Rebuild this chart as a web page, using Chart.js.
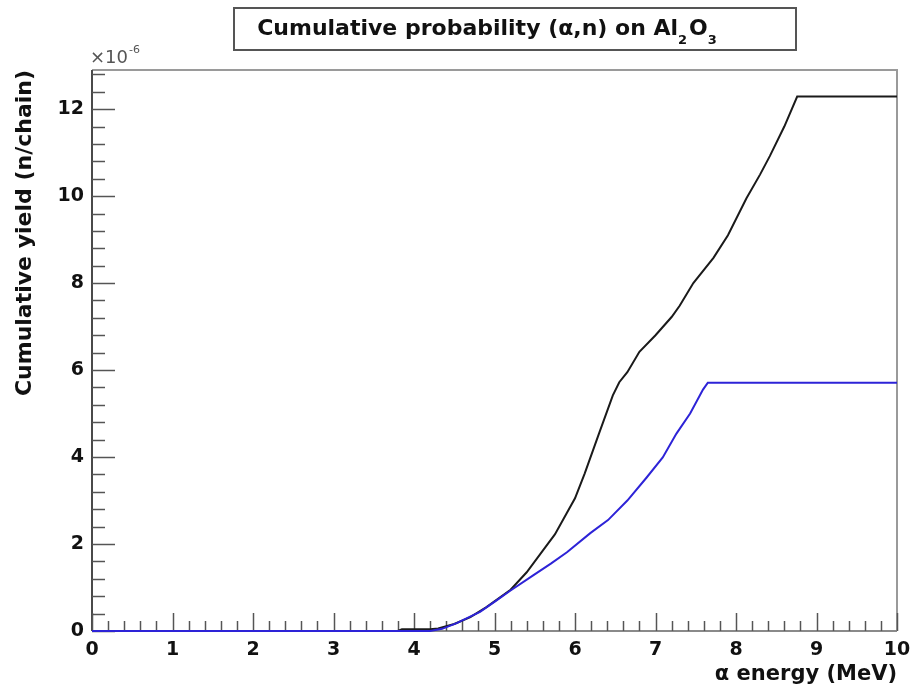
<!DOCTYPE html>
<html>
<head>
<meta charset="utf-8">
<script src="https://cdn.jsdelivr.net/npm/chart.js@4/dist/chart.umd.min.js"></script>
<style>
  html, body { margin: 0; padding: 0; background: #fff; }
  #wrap { width: 913px; height: 688px; }
</style>
</head>
<body>
<div id="wrap"><canvas id="c" width="913" height="688"></canvas></div>
<script>
// Cumulative (alpha,n) yield on Al2O3, in units of 1e-6 neutrons per chain
const curveAEnergy = [0, 3.8, 3.85, 4.2, 4.3, 4.5, 4.7, 4.9, 5.0, 5.2, 5.4, 5.6, 5.75, 5.9, 6.0, 6.12, 6.3, 6.47, 6.55, 6.65, 6.8, 7.0, 7.2, 7.3, 7.47, 7.72, 7.9, 8.13, 8.3, 8.42, 8.6, 8.76, 10];
const curveAYield  = [0, 0, 0.04, 0.04, 0.06, 0.16, 0.32, 0.55, 0.68, 0.95, 1.35, 1.85, 2.22, 2.72, 3.05, 3.62, 4.55, 5.42, 5.72, 5.95, 6.42, 6.8, 7.22, 7.48, 8.0, 8.58, 9.1, 9.95, 10.5, 10.92, 11.6, 12.29, 12.29];

const curveBEnergy = [0, 4.2, 4.35, 4.53, 4.82, 5.03, 5.19, 5.48, 5.7, 5.9, 6.19, 6.41, 6.65, 6.89, 7.09, 7.26, 7.43, 7.59, 7.65, 10];
const curveBYield  = [0, 0, 0.05, 0.18, 0.44, 0.71, 0.92, 1.28, 1.55, 1.81, 2.25, 2.55, 3.0, 3.53, 3.99, 4.54, 5.0, 5.55, 5.71, 5.71];

const xTickLabels = [0, 1, 2, 3, 4, 5, 6, 7, 8, 9, 10];
const yTickLabels = [0, 2, 4, 6, 8, 10, 12];

const FONT = '"DejaVu Sans", Verdana, sans-serif';

function toPoints(xs, ys) { return xs.map((x, i) => ({ x: x, y: ys[i] })); }

// Frame, inward tick marks, exponent label and boxed title
const decorations = {
  id: 'decorations',
  beforeDatasetsDraw(chart) {
    const { ctx, chartArea: a, scales: { x, y } } = chart;
    ctx.save();
    ctx.lineWidth = 2;
    ctx.strokeStyle = '#9a9a9a';
    ctx.beginPath();
    ctx.moveTo(a.left, a.top); ctx.lineTo(a.right, a.top); ctx.lineTo(a.right, a.bottom);
    ctx.stroke();
    ctx.strokeStyle = '#8a8a8a';
    ctx.beginPath(); ctx.moveTo(a.left, a.bottom); ctx.lineTo(a.right, a.bottom); ctx.stroke();
    ctx.strokeStyle = '#4a4a4a';
    ctx.beginPath(); ctx.moveTo(a.left, a.top); ctx.lineTo(a.left, a.bottom); ctx.stroke();

    ctx.lineWidth = 1.5;
    ctx.strokeStyle = '#555';
    for (let i = 0; i <= 50; i++) {
      const v = i * 0.2;
      const px = Math.round(x.getPixelForValue(v)) + 0.5;
      const len = (i % 5 === 0) ? 18 : 10;
      ctx.beginPath(); ctx.moveTo(px, a.bottom); ctx.lineTo(px, a.bottom - len); ctx.stroke();
    }
    for (let i = 0; i <= 32; i++) {
      const v = i * 0.4;
      if (v > y.max) break;
      const py = Math.round(y.getPixelForValue(v)) + 0.5;
      const len = (i % 5 === 0) ? 23 : 13;
      ctx.beginPath(); ctx.moveTo(a.left, py); ctx.lineTo(a.left + len, py); ctx.stroke();
    }
    ctx.restore();
  },
  afterDraw(chart) {
    const { ctx, chartArea: a } = chart;
    ctx.save();
    // exponent label
    ctx.fillStyle = '#555';
    ctx.textBaseline = 'alphabetic';
    ctx.font = '18px ' + FONT;
    ctx.fillText('\u00d710', a.left - 2, a.top - 7);
    const w = ctx.measureText('\u00d710').width;
    ctx.font = '11px ' + FONT;
    ctx.fillText('-6', a.left - 2 + w + 1, a.top - 17);

    // title box
    ctx.fillStyle = '#fff';
    ctx.fillRect(234, 8, 562, 42);
    ctx.strokeStyle = '#555';
    ctx.lineWidth = 2;
    ctx.strokeRect(234, 8, 562, 42);

    const parts = [
      { t: 'Cumulative probability (\u03b1,n) on Al', sub: false },
      { t: '2', sub: true },
      { t: 'O', sub: false },
      { t: '3', sub: true }
    ];
    const mainFont = 'bold 22px ' + FONT;
    const subFont = 'bold 13px ' + FONT;
    let total = 0;
    parts.forEach(p => { ctx.font = p.sub ? subFont : mainFont; p.w = ctx.measureText(p.t).width; total += p.w + (p.sub ? 2 : 0); });
    let cx = 488 - total / 2;
    ctx.fillStyle = '#111';
    parts.forEach(p => {
      ctx.font = p.sub ? subFont : mainFont;
      ctx.fillText(p.t, cx, p.sub ? 44 : 35);
      cx += p.w + (p.sub ? 2 : 0);
    });
    ctx.restore();
  }
};

new Chart(document.getElementById('c'), {
  type: 'line',
  data: {
    datasets: [
      {
        data: toPoints(curveBEnergy, curveBYield),
        borderColor: 'rgb(45,35,215)',
        borderWidth: 2,
        pointRadius: 0,
        tension: 0,
        clip: 4,
        order: 0
      },
      {
        data: toPoints(curveAEnergy, curveAYield),
        borderColor: '#1a1a1a',
        borderWidth: 2,
        pointRadius: 0,
        tension: 0,
        clip: 4,
        order: 1
      }
    ]
  },
  options: {
    responsive: false,
    animation: false,
    events: [],
    layout: { padding: { left: 0, top: 70, right: 16, bottom: 0 } },
    plugins: { legend: { display: false }, tooltip: { enabled: false }, title: { display: false } },
    scales: {
      x: {
        type: 'linear',
        min: 0, max: 10,
        afterBuildTicks: s => { s.ticks = xTickLabels.map(v => ({ value: v })); },
        afterFit: s => { s.height = 57; s.paddingLeft = 0; s.paddingRight = 0; },
        grid: { display: false, drawTicks: false },
        border: { display: false },
        ticks: {
          color: '#111', padding: 8, maxRotation: 0, autoSkip: false,
          font: { family: FONT, size: 19, weight: 'bold' }
        },
        title: {
          display: true, align: 'end', text: '\u03b1 energy (MeV)', color: '#111',
          font: { family: FONT, size: 21, weight: 'bold' },
          padding: { top: 0, bottom: 1 }
        }
      },
      y: {
        type: 'linear',
        min: 0, max: 12.9,
        afterBuildTicks: s => { s.ticks = yTickLabels.map(v => ({ value: v })); },
        afterFit: s => { s.width = 92; s.paddingTop = 0; s.paddingBottom = 0; },
        grid: { display: false, drawTicks: false },
        border: { display: false },
        ticks: {
          color: '#111', padding: 8, autoSkip: false,
          font: { family: FONT, size: 19, weight: 'bold' }
        },
        title: {
          display: true, align: 'end', text: 'Cumulative yield (n/chain)', color: '#111',
          font: { family: FONT, size: 22, weight: 'bold' },
          padding: { top: 12, bottom: 0 }
        }
      }
    }
  },
  plugins: [decorations]
});
</script>
</body>
</html>
